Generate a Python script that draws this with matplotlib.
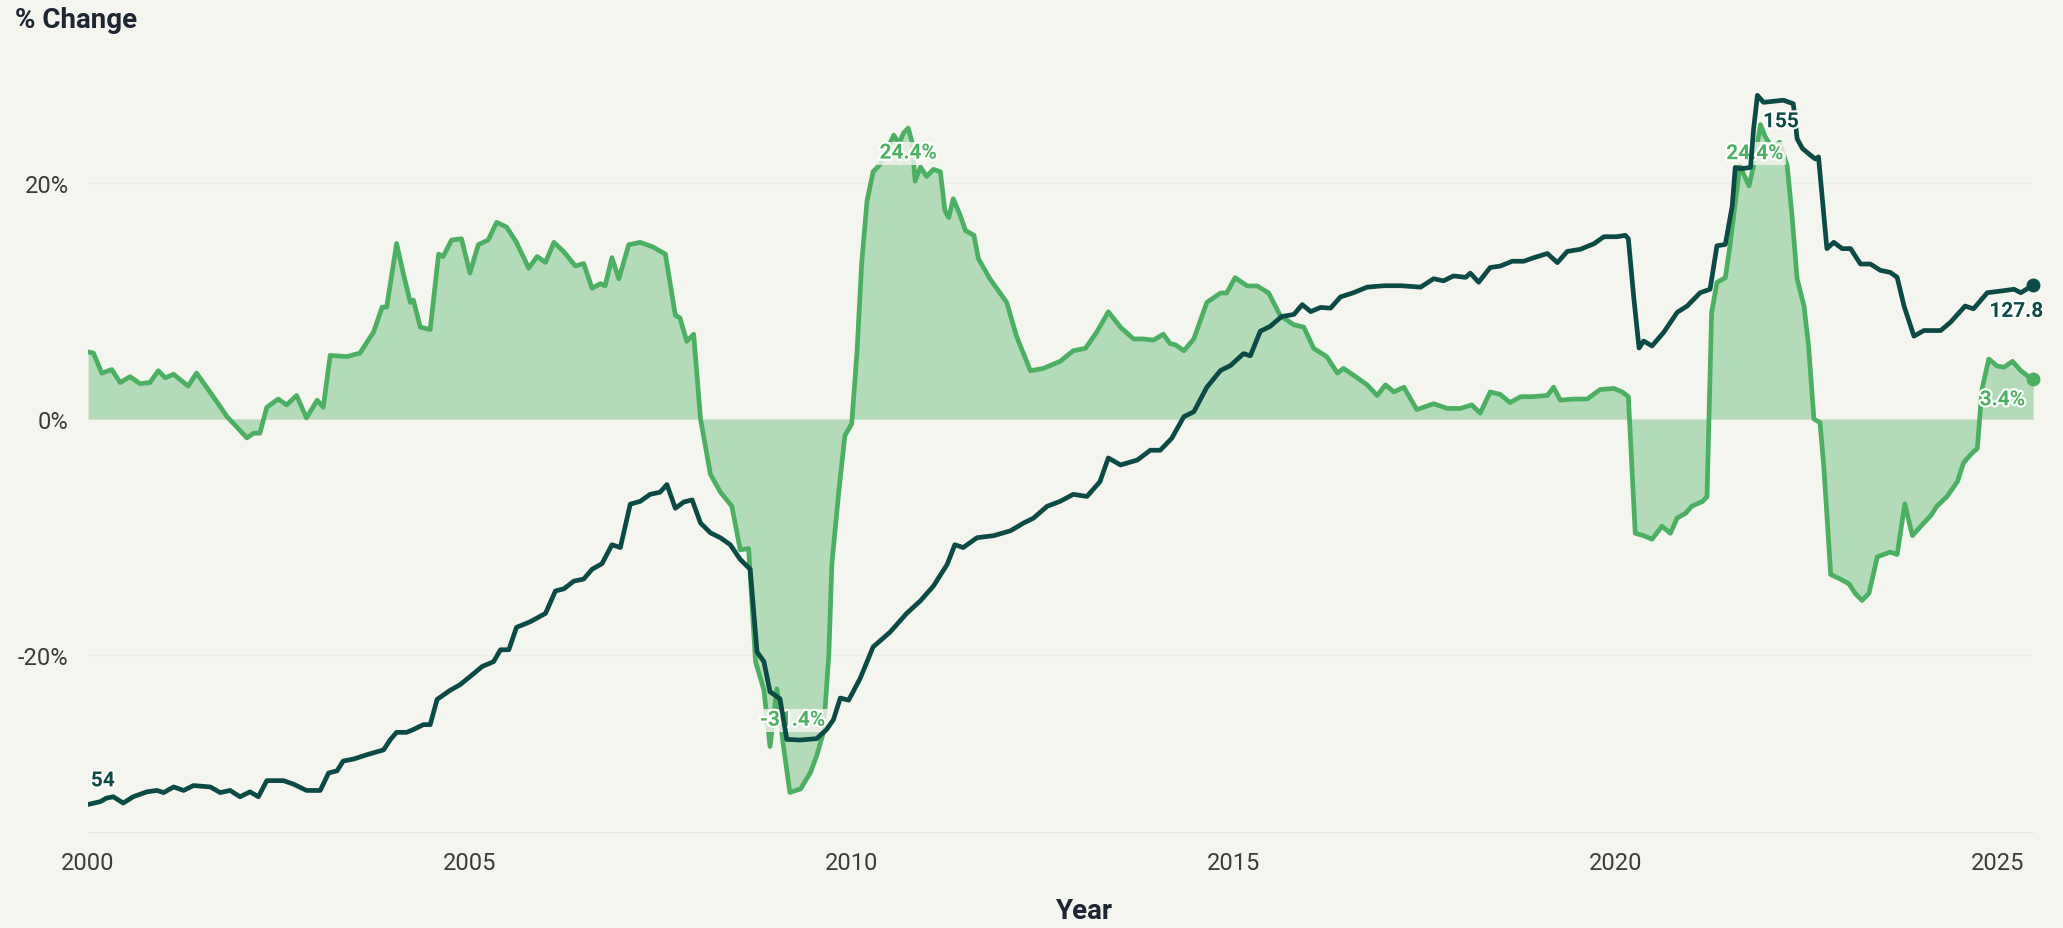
import matplotlib
matplotlib.use("Agg")
import matplotlib.pyplot as plt
import matplotlib.patheffects as pe
import numpy as np

# Year-over-year % change (green series)
pct_t = [2000.00, 2000.07, 2000.18, 2000.31, 2000.42, 2000.55, 2000.68, 2000.81, 2000.92, 2001.01,
         2001.12, 2001.31, 2001.42, 2001.64, 2001.82, 2002.08, 2002.17, 2002.25, 2002.34, 2002.49,
         2002.60, 2002.73, 2002.86, 2003.00, 2003.08, 2003.17, 2003.39, 2003.56, 2003.74, 2003.85,
         2003.91, 2004.04, 2004.13, 2004.22, 2004.26, 2004.35, 2004.48, 2004.59, 2004.65, 2004.76,
         2004.89, 2005.00, 2005.11, 2005.24, 2005.35, 2005.48, 2005.61, 2005.77, 2005.88, 2005.99,
         2006.10, 2006.23, 2006.38, 2006.49, 2006.60, 2006.71, 2006.77, 2006.86, 2006.95, 2007.08,
         2007.23, 2007.40, 2007.56, 2007.69, 2007.75, 2007.84, 2007.93, 2008.02, 2008.15, 2008.28,
         2008.43, 2008.54, 2008.65, 2008.74, 2008.85, 2008.93, 2009.02, 2009.10, 2009.19, 2009.33,
         2009.46, 2009.54, 2009.63, 2009.70, 2009.74, 2009.83, 2009.91, 2010.00, 2010.07, 2010.13,
         2010.20, 2010.28, 2010.37, 2010.46, 2010.55, 2010.62, 2010.68, 2010.74, 2010.79, 2010.83,
         2010.90, 2010.98, 2011.07, 2011.16, 2011.22, 2011.27, 2011.33, 2011.42, 2011.49, 2011.60,
         2011.66, 2011.81, 2012.03, 2012.16, 2012.34, 2012.51, 2012.73, 2012.90, 2013.06, 2013.21,
         2013.36, 2013.52, 2013.69, 2013.82, 2013.95, 2014.08, 2014.17, 2014.24, 2014.35, 2014.48,
         2014.65, 2014.83, 2014.91, 2015.02, 2015.18, 2015.31, 2015.46, 2015.61, 2015.79, 2015.92,
         2016.05, 2016.22, 2016.36, 2016.44, 2016.62, 2016.75, 2016.88, 2016.99, 2017.10, 2017.23,
         2017.40, 2017.62, 2017.80, 2017.97, 2018.12, 2018.23, 2018.36, 2018.49, 2018.62, 2018.76,
         2018.91, 2019.11, 2019.19, 2019.28, 2019.45, 2019.63, 2019.80, 2019.98, 2020.09, 2020.17,
         2020.26, 2020.37, 2020.48, 2020.61, 2020.72, 2020.81, 2020.92, 2021.00, 2021.14, 2021.20,
         2021.26, 2021.33, 2021.44, 2021.50, 2021.63, 2021.75, 2021.81, 2021.90, 2021.96, 2022.05,
         2022.15, 2022.25, 2022.31, 2022.38, 2022.47, 2022.53, 2022.60, 2022.68, 2022.73, 2022.82,
         2022.95, 2023.06, 2023.14, 2023.23, 2023.32, 2023.43, 2023.51, 2023.60, 2023.69, 2023.79,
         2023.89, 2024.00, 2024.13, 2024.21, 2024.34, 2024.48, 2024.56, 2024.67, 2024.74, 2024.80,
         2024.89, 2025.00, 2025.09, 2025.20, 2025.31, 2025.39, 2025.47]
pct_v = [5.7, 5.6, 3.9, 4.2, 3.1, 3.6, 3.0, 3.1, 4.1, 3.5,
         3.8, 2.8, 3.9, 1.9, 0.2, -1.6, -1.2, -1.2, 1.0, 1.7,
         1.2, 2.0, 0.1, 1.6, 1.0, 5.4, 5.3, 5.6, 7.4, 9.5,
         9.5, 14.9, 12.3, 9.9, 10.1, 7.8, 7.6, 14.0, 13.8, 15.2,
         15.3, 12.4, 14.8, 15.2, 16.7, 16.3, 15.0, 12.8, 13.8, 13.3,
         15.0, 14.2, 13.0, 13.2, 11.1, 11.5, 11.3, 13.7, 11.9, 14.8,
         15.0, 14.6, 14.0, 8.8, 8.6, 6.6, 7.2, 0.0, -4.7, -6.2,
         -7.4, -11.1, -11.0, -20.6, -23.0, -27.8, -22.9, -27.5, -31.7, -31.4,
         -30.0, -28.6, -26.6, -20.0, -12.3, -6.2, -1.4, -0.4, 5.8, 13.2,
         18.5, 21.0, 21.6, 22.8, 24.1, 23.4, 24.3, 24.7, 23.5, 20.2,
         21.4, 20.6, 21.2, 21.0, 17.7, 17.1, 18.7, 17.3, 16.0, 15.6,
         13.6, 11.9, 9.9, 7.0, 4.1, 4.3, 4.9, 5.8, 6.0, 7.4,
         9.1, 7.8, 6.8, 6.8, 6.7, 7.2, 6.4, 6.3, 5.8, 6.8,
         9.9, 10.7, 10.7, 12.0, 11.3, 11.3, 10.7, 8.8, 8.0, 7.8,
         6.0, 5.3, 3.9, 4.3, 3.5, 2.9, 2.0, 2.9, 2.3, 2.7,
         0.8, 1.3, 0.9, 0.9, 1.2, 0.5, 2.3, 2.1, 1.4, 1.9,
         1.9, 2.0, 2.7, 1.6, 1.7, 1.7, 2.5, 2.6, 2.3, 1.9,
         -9.7, -9.9, -10.2, -9.1, -9.7, -8.4, -8.0, -7.4, -7.0, -6.6,
         9.0, 11.6, 12.0, 14.7, 21.5, 19.8, 21.5, 25.0, 24.0, 23.0,
         23.5, 21.5, 17.5, 11.9, 9.6, 6.2, 0.0, -0.3, -4.1, -13.2,
         -13.6, -14.0, -14.8, -15.4, -14.8, -11.7, -11.5, -11.3, -11.5, -7.2,
         -9.9, -9.1, -8.2, -7.4, -6.6, -5.3, -3.7, -2.9, -2.5, 2.5,
         5.1, 4.5, 4.4, 4.9, 4.1, 3.7, 3.4]

# Index level (dark series)
idx_t = [2000.00, 2000.16, 2000.24, 2000.33, 2000.46, 2000.59, 2000.77, 2000.90, 2000.99, 2001.12,
         2001.25, 2001.38, 2001.60, 2001.73, 2001.86, 2001.99, 2002.12, 2002.23, 2002.34, 2002.56,
         2002.69, 2002.86, 2003.04, 2003.15, 2003.26, 2003.34, 2003.48, 2003.65, 2003.87, 2003.96,
         2004.04, 2004.17, 2004.26, 2004.39, 2004.48, 2004.57, 2004.74, 2004.87, 2005.05, 2005.16,
         2005.31, 2005.40, 2005.51, 2005.61, 2005.79, 2005.99, 2006.12, 2006.23, 2006.36, 2006.49,
         2006.60, 2006.73, 2006.86, 2006.97, 2007.10, 2007.23, 2007.36, 2007.49, 2007.58, 2007.69,
         2007.80, 2007.91, 2008.02, 2008.15, 2008.28, 2008.41, 2008.54, 2008.67, 2008.76, 2008.85,
         2008.93, 2009.06, 2009.15, 2009.32, 2009.54, 2009.67, 2009.76, 2009.85, 2009.96, 2010.11,
         2010.28, 2010.50, 2010.72, 2010.90, 2011.07, 2011.25, 2011.35, 2011.46, 2011.64, 2011.86,
         2012.08, 2012.25, 2012.38, 2012.56, 2012.73, 2012.90, 2013.08, 2013.25, 2013.36, 2013.52,
         2013.74, 2013.91, 2014.04, 2014.19, 2014.35, 2014.48, 2014.65, 2014.83, 2014.96, 2015.13,
         2015.22, 2015.35, 2015.48, 2015.63, 2015.79, 2015.90, 2016.01, 2016.14, 2016.27, 2016.40,
         2016.57, 2016.75, 2016.97, 2017.19, 2017.45, 2017.62, 2017.75, 2017.88, 2018.04, 2018.10,
         2018.21, 2018.36, 2018.49, 2018.65, 2018.80, 2018.93, 2019.11, 2019.24, 2019.37, 2019.54,
         2019.72, 2019.85, 2020.02, 2020.13, 2020.17, 2020.24, 2020.31, 2020.37, 2020.48, 2020.63,
         2020.81, 2020.94, 2021.11, 2021.24, 2021.33, 2021.44, 2021.53, 2021.57, 2021.64, 2021.77,
         2021.81, 2021.86, 2021.94, 2022.20, 2022.33, 2022.38, 2022.45, 2022.56, 2022.62, 2022.66,
         2022.77, 2022.86, 2022.97, 2023.08, 2023.21, 2023.34, 2023.47, 2023.60, 2023.69, 2023.78,
         2023.91, 2024.04, 2024.26, 2024.39, 2024.58, 2024.69, 2024.87, 2025.09, 2025.22, 2025.31,
         2025.47]
idx_v = [53.6, 54.0, 54.5, 54.7, 53.8, 54.7, 55.4, 55.6, 55.3, 56.1,
         55.6, 56.3, 56.1, 55.3, 55.6, 54.7, 55.4, 54.7, 57.0, 57.0,
         56.5, 55.6, 55.6, 58.1, 58.4, 59.8, 60.1, 60.7, 61.4, 62.9,
         63.9, 63.9, 64.3, 65.0, 65.0, 68.6, 69.9, 70.7, 72.3, 73.3,
         74.0, 75.7, 75.7, 78.9, 79.7, 80.9, 84.1, 84.4, 85.5, 85.8,
         87.2, 88.0, 90.7, 90.3, 96.5, 96.9, 97.9, 98.2, 99.3, 95.9,
         96.8, 97.1, 93.8, 92.4, 91.7, 90.7, 88.6, 87.2, 75.4, 74.0,
         69.7, 68.7, 62.9, 62.8, 63.0, 64.3, 65.7, 68.8, 68.5, 71.6,
         76.1, 78.2, 80.9, 82.7, 84.8, 87.9, 90.7, 90.3, 91.7, 92.0,
         92.7, 93.8, 94.5, 96.2, 96.9, 97.9, 97.6, 99.7, 103.1, 102.1,
         102.8, 104.2, 104.2, 105.9, 109.0, 109.7, 113.2, 115.6, 116.3, 118.0,
         117.7, 121.2, 121.9, 123.3, 123.6, 125.0, 124.0, 124.6, 124.5, 126.1,
         126.7, 127.5, 127.7, 127.7, 127.5, 128.7, 128.4, 129.1, 128.9, 129.5,
         128.2, 130.3, 130.5, 131.2, 131.2, 131.7, 132.3, 131.0, 132.6, 132.9,
         133.7, 134.7, 134.7, 134.9, 134.4, 126.1, 118.8, 119.8, 119.1, 121.0,
         123.9, 124.8, 126.7, 127.2, 133.4, 133.6, 139.1, 144.6, 144.4, 144.6,
         150.1, 154.9, 153.9, 154.2, 153.7, 148.7, 147.3, 146.3, 145.8, 146.1,
         133.0, 133.9, 133.0, 133.0, 130.8, 130.8, 129.9, 129.6, 128.9, 124.8,
         120.5, 121.3, 121.3, 122.5, 124.8, 124.4, 126.7, 127.0, 127.2, 126.7,
         127.8]

year_ticks = [2000, 2005, 2010, 2015, 2020, 2025]
pct_ticks = [-20, 0, 20]
pct_labels = ["-20%", "0%", "20%"]

bg = "#f5f5f0"
green = "#4caf62"
fill_green = "#b3dbb8"
dark = "#0b4a45"
title_col = "#1f2633"
tick_col = "#3c3c3c"

plt.rcParams['font.family'] = ['Roboto', 'DejaVu Sans']

pct_t = np.array(pct_t)
pct_v = np.array(pct_v)
idx_t = np.array(idx_t)
idx_v = np.array(idx_v)

fig = plt.figure(figsize=(20.63, 9.29), dpi=100, facecolor=bg)
ax = fig.add_axes([0.0427, 0.1033, 0.9428, 0.8536])
ax.set_facecolor(bg)
ax.set_axisbelow(True)

ax.fill_between(pct_t, pct_v, 0, color=fill_green, lw=0, zorder=1, interpolate=True)
ax.plot(pct_t, pct_v, color=green, lw=3.4, zorder=3,
        solid_joinstyle='round', solid_capstyle='round')

ax.set_xlim(pct_t[0], pct_t[-1])
ax.set_ylim(-35.06, 32.26)
ax.set_yticks(pct_ticks)
ax.set_yticklabels(pct_labels)
ax.set_xticks(year_ticks)
ax.set_xticklabels([str(y) for y in year_ticks])
ax.tick_params(axis='both', length=0, labelsize=17, colors=tick_col)
ax.tick_params(axis='y', pad=14)
ax.tick_params(axis='x', pad=14)
ax.grid(axis='y', color='#eeeee8', lw=1)
for s in ['top', 'right', 'left']:
    ax.spines[s].set_visible(False)
ax.spines['bottom'].set_color('#e6e6e0')

# second scale for the index level
ax2 = ax.twinx()
ax2.set_ylim(49.66, 162.94)
ax2.plot(idx_t, idx_v, color=dark, lw=3.4, zorder=4,
         solid_joinstyle='round', solid_capstyle='round')
ax2.axis('off')

# end dots
ax.plot(pct_t[-1], pct_v[-1], 'o', color=green, ms=9, zorder=6, clip_on=False)
ax2.plot(idx_t[-1], idx_v[-1], 'o', color=dark, ms=9, zorder=6, clip_on=False)

halo = [pe.withStroke(linewidth=3, foreground='white')]
box = dict(boxstyle='square,pad=0.1', facecolor=bg, edgecolor='none', alpha=0.8)

def label(axis, x, y, text, color, dx, dy, ha='center', usebox=False):
    axis.annotate(text, (x, y), xytext=(dx, dy), textcoords='offset points',
                  ha=ha, va='center', color=color, fontsize=15, fontweight='bold',
                  path_effects=halo, zorder=10,
                  bbox=box if usebox else None, annotation_clip=False)

# green labels
i_2010 = np.argmax(np.where((pct_t > 2010) & (pct_t < 2011.5), pct_v, -99))
i_2022 = np.argmax(np.where(pct_t > 2021, pct_v, -99))
i_min = np.argmin(pct_v)
label(ax, pct_t[i_2010], pct_v[i_2010], "24.4%", green, 0, -18, usebox=True)
label(ax, pct_t[i_2022], pct_v[i_2022], "24.4%", green, -4, -21, usebox=True)
label(ax, pct_t[i_min], pct_v[i_min], "-31.4%", green, 2, 52, usebox=True)
label(ax, pct_t[-1], pct_v[-1], "3.4%", green, -22, -15)

# dark labels
i_max = np.argmax(idx_v)
label(ax2, idx_t[0], idx_v[0], "54", dark, 2, 17, ha='left')
label(ax2, idx_t[i_max], idx_v[i_max], "155", dark, 4, -19, ha='left')
label(ax2, idx_t[-1], idx_v[-1], "127.8", dark, -12, -19)

fig.text(15 / 2063, 1 - 20 / 929, "% Change", ha='left', va='center',
         fontsize=20, fontweight='bold', color=title_col)
fig.text(1084 / 2063, 17 / 929, "Year", ha='center', va='center',
         fontsize=20, fontweight='bold', color=title_col)

fig.savefig("out.png", dpi=100, facecolor=bg)
